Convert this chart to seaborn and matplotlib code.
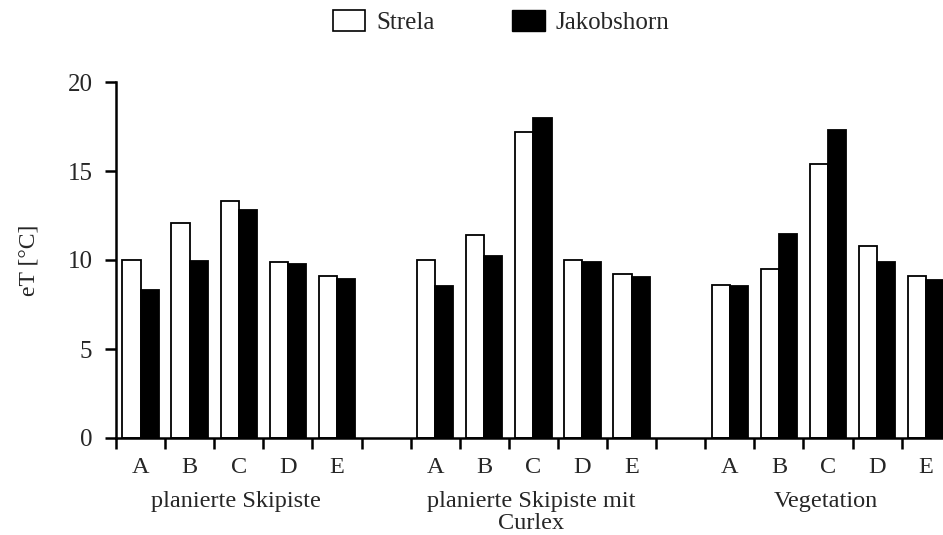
import numpy as np
import pandas as pd
import matplotlib
matplotlib.use("Agg")
import matplotlib.pyplot as plt
import seaborn as sns
from matplotlib.patches import Patch

groups = ["planierte Skipiste", "planierte Skipiste mit\nCurlex", "Vegetation"]
positions = ["A", "B", "C", "D", "E"]
series = ["Strela", "Jakobshorn"]
strela = [10.0, 12.1, 13.3, 9.9, 9.1,
          10.0, 11.4, 17.2, 10.0, 9.2,
          8.6, 9.5, 15.4, 10.8, 9.1]
jakobshorn = [8.3, 9.95, 12.8, 9.8, 8.95,
              8.55, 10.2, 18.0, 9.9, 9.05,
              8.55, 11.45, 17.3, 9.9, 8.85]
yticks = [0, 5, 10, 15, 20]

# build long table
rows = []
order = []
k = 0
for gi, g in enumerate(groups):
    for p in positions:
        key = f"{gi}{p}"
        order.append(key)
        rows.append({"slot": key, "site": series[0], "value": strela[k]})
        rows.append({"slot": key, "site": series[1], "value": jakobshorn[k]})
        k += 1
    if gi < len(groups) - 1:
        order.append(f"gap{gi}")
df = pd.DataFrame(rows)

sns.set_style("ticks")
plt.rcParams["font.family"] = ["Liberation Serif", "DejaVu Serif"]

W, H = 943, 535
fig = plt.figure(figsize=(W / 100, H / 100), dpi=100)
slot_px = 49.1
left_px, base_px, top_px = 116, 438, 82
ax = fig.add_axes([left_px / W, (H - base_px) / H,
                   17 * slot_px / W, (base_px - top_px) / H])

sns.barplot(data=df, x="slot", y="value", hue="site", order=order,
            hue_order=series, palette={"Strela": "white", "Jakobshorn": "black"},
            edgecolor="black", linewidth=1.3, width=0.74, ax=ax,
            legend=False, errorbar=None)

ax.set_xlim(-0.5, 16.5)
ax.set_ylim(0, 20)
ax.set_yticks(yticks)
ax.set_yticklabels([str(t) for t in yticks], fontsize=18)
ax.set_xticks(np.arange(-0.5, 17.0, 1.0))
ax.set_xticklabels([])
ax.tick_params(axis="both", direction="out", width=1.8, length=8, color="black")
ax.tick_params(axis="y", pad=9)
sns.despine(ax=ax)
for s in ["left", "bottom"]:
    ax.spines[s].set_linewidth(1.8)
    ax.spines[s].set_color("black")
ax.set_xlabel("")
ax.set_ylabel("eT [°C]", fontsize=17, labelpad=20)

trans = ax.get_xaxis_transform()
for i, key in enumerate(order):
    if key.startswith("gap"):
        continue
    ax.text(i, -0.083, key[1], transform=trans, ha="center", va="center",
            fontsize=17.5)
for gi, g in enumerate(groups):
    cx = gi * 6 + 2 - 0.05
    ax.text(cx, -0.150, g, transform=trans, ha="center", va="top",
            fontsize=17.5, linespacing=1.05)

handles = [Patch(facecolor="white", edgecolor="black", linewidth=1.2, label="Strela"),
           Patch(facecolor="black", edgecolor="black", label="Jakobshorn")]
fig.legend(handles=handles, loc="center left", bbox_to_anchor=(320 / W, 1 - 22 / H),
           ncol=2, frameon=False, fontsize=18, handlelength=1.3, handleheight=0.9,
           handletextpad=0.45, columnspacing=3.1, borderpad=0)

fig.savefig("out.png", dpi=100)
